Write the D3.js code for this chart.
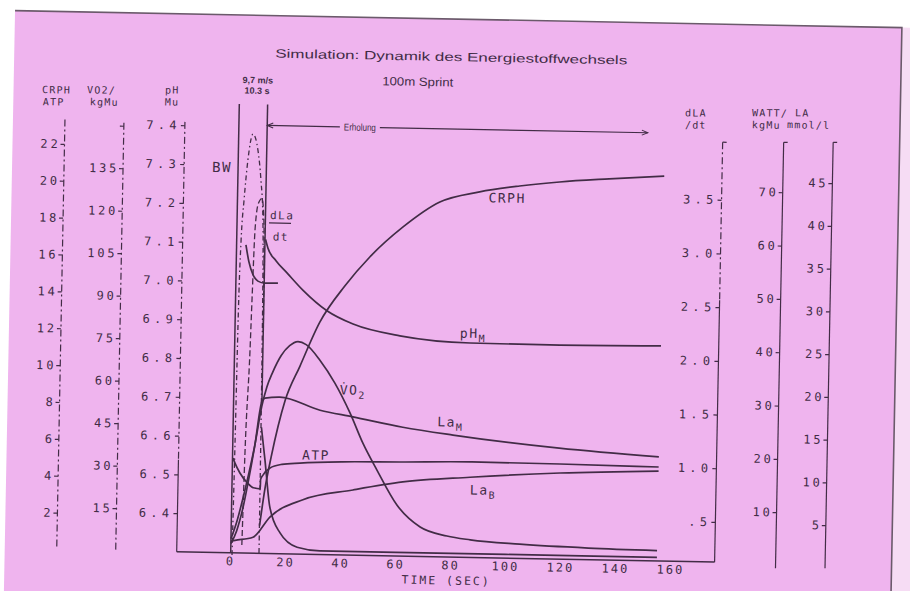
<!DOCTYPE html>
<html>
<head>
<meta charset="utf-8">
<script src="https://cdn.jsdelivr.net/npm/d3@7"></script>
<style>
    body { margin: 0; background: #fff; }
    svg { display: block; }
</style>
</head>
<body>
<svg id="chart" width="910" height="591"></svg>
<script>
// ---- data ----
const timeTicks = [0, 20, 40, 60, 80, 100, 120, 140, 160];
const crphTicks = [2, 4, 6, 8, 10, 12, 14, 16, 18, 20, 22];
const vo2Ticks = [15, 30, 45, 60, 75, 90, 105, 120, 135, 150];
const phTicks = [6.4, 6.5, 6.6, 6.7, 6.8, 6.9, 7.0, 7.1, 7.2, 7.3, 7.4];
const dlaTicks = [0.5, 1.0, 1.5, 2.0, 2.5, 3.0, 3.5];
const wattTicks = [10, 20, 30, 40, 50, 60, 70];
const laTicks = [5, 10, 15, 20, 25, 30, 35, 40, 45];

// [time s, value]
const crph = [[10.3, 1.5], [12, 3.5], [14, 5.2], [18.7, 8.3], [23.9, 10.2], [30.8, 12.6], [39.7, 14.6],
    [48.6, 16.2], [60.4, 17.85], [73.6, 19.24], [88, 19.83], [102.5, 20.19], [117, 20.45], [135, 20.67], [155, 20.88]];
const atp = [[0.2, 5.14], [0.9, 4.88], [2.8, 4.34], [5.6, 3.81], [7.8, 3.55], [10.3, 3.5], [10.35, 4.0],
    [11.2, 4.25], [13.7, 4.64], [18, 4.85], [24.5, 4.94], [40, 5.05], [60.9, 5.1], [86.4, 5.18], [119.1, 5.16], [155, 5.1]];
const vo2 = [[0, 5], [2, 11], [4, 19], [6, 28], [8, 38], [10.3, 52], [12, 58.8], [14, 64], [17, 70], [20, 73.5],
    [23, 75], [26, 74], [31.1, 68.6], [36.7, 60.6], [42.4, 50.2], [47.3, 39.6], [52.6, 30.2], [60.1, 18],
    [68.7, 10.4], [78.5, 7.4], [87, 6.2], [105, 5.0], [130, 4.1], [155, 3.7]];
const phSprint = [[3.4, 7.095], [4.6, 7.051], [6.2, 7.018], [8.0, 7.002], [10.5, 6.997], [15.3, 6.998]];
const phM = [[10.5, 7.11], [11.4, 7.088], [14.5, 7.055], [18.6, 7.024], [24.4, 6.981], [33.3, 6.929],
    [42.9, 6.896], [60, 6.868], [85.6, 6.853], [114.6, 6.852], [155, 6.855]];
const dlaSprint = [[4.0, 0.2], [4.5, 1.06], [5.6, 2.0], [6.0, 2.5], [6.6, 3.14], [7.6, 3.38], [8.9, 3.43],
    [9.7, 3.25], [10.1, 2.8], [10.3, 2.2]];
const dlaAfter = [[10.3, 1.3], [11.8, 1.0], [13.9, 0.56], [17.8, 0.32], [24.1, 0.19], [32.4, 0.16], [60, 0.16], [100, 0.16], [155, 0.16]];
const power = [[0.5, 0], [0.8, 20], [1.1, 45], [1.6, 59], [2.4, 66.6], [3.5, 74], [5.2, 79], [7.1, 76],
    [8.4, 70.4], [9.4, 62.9], [9.8, 51.7], [10.1, 30], [10.3, 0]];
const laM = [[0, 1.5], [2, 3], [4, 5.5], [6, 9], [8, 13], [10.3, 18.2], [11.4, 18.6], [16.8, 18.75],
    [31.5, 17.3], [43.5, 16.6], [61.7, 15.5], [80, 14.7], [118.7, 13.4], [155, 12.6]];
const laB = [[0, 1.8], [1.5, 1.9], [8, 2.3], [14, 4.7], [25.9, 6.8], [44, 8.05], [62.1, 9.1], [86.5, 9.8],
    [119.2, 10.5], [155, 10.95]];

// ---- setup ----
const ink = '#422c46';
const mono = "'DejaVu Sans Mono', monospace";
const sans = "'Liberation Sans', Arial, sans-serif";
const base = 557; // x axis line

const svg = d3.select('#chart');
svg.append('rect').attr('width', 910).attr('height', 591).attr('fill', '#fff');

// the scan is a little tilted
const g = svg.append('g').attr('transform', 'rotate(1.1,450,330)');

// paper
g.append('rect').attr('x', 9).attr('y', 19).attr('width', 887).attr('height', 640).attr('fill', '#efb4ee');
g.append('rect').attr('x', 896).attr('y', 19).attr('width', 40).attr('height', 640).attr('fill', '#f6dcf4');
g.append('path').attr('d', 'M9,19 L896,19 L896,660')
    .attr('fill', 'none').attr('stroke', '#6b5a6b').attr('stroke-width', 1.6);

// scales
const x = d3.scaleLinear().domain([0, 160]).range([235, 675]);
const yCrph = d3.scaleLinear().domain([0, 22]).range([base, base - 22 * 18.44]);
const yVo2 = d3.scaleLinear().domain([0, 135]).range([base, base - 135 * 2.833]);
const yPh = d3.scaleLinear().domain([6.4, 7.4]).range([518.4, 130.4]);
const yDla = d3.scaleLinear().domain([0.5, 3.5]).range([516.8, 194.6]);
const yWatt = d3.scaleLinear().domain([10, 70]).range([505.9, 185.9]);
const yLa = d3.scaleLinear().domain([5, 45]).range([517.9, 175.9]);

// ---- axes ----
function vAxis(scale, ticks, xPos, fmt, spacing) {
    const ax = g.append('g').attr('transform', `translate(${xPos},0)`)
        .call(d3.axisLeft(scale).tickValues(ticks).tickSize(4).tickPadding(0).tickFormat(fmt));
    ax.attr('font-family', mono).attr('font-size', 12);
    ax.select('.domain').remove();
    ax.selectAll('line').attr('stroke', ink).attr('stroke-width', 1.2);
    ax.selectAll('text').attr('fill', ink).attr('letter-spacing', spacing);
    return ax;
}

function vLine(xPos, y0, y1, dash, w) {
    g.append('line').attr('x1', xPos).attr('x2', xPos).attr('y1', y0).attr('y2', y1)
        .attr('stroke', ink).attr('stroke-width', w || 1.2)
        .attr('stroke-dasharray', dash || null);
}

const dashAxis = '7,3,2,3';

vAxis(yCrph, crphTicks, 61, d3.format('d'), 2.8);
vLine(61, 127, base, dashAxis);

vAxis(yVo2, vo2Ticks, 120, d => d === 150 ? '' : d, 2.8);
vLine(120, 129, base, dashAxis);

vAxis(yPh, phTicks, 181, d3.format('.1f'), 4.3);
vLine(181, 127, 465, dashAxis);
vLine(181, 465, base);

vAxis(yDla, dlaTicks, 719, d => d === 0.5 ? '.5' : d.toFixed(1), 4.3);
vLine(719, 137, 295, dashAxis);
vLine(719, 295, base);

vAxis(yWatt, wattTicks, 780, d3.format('d'), 2.8);
vLine(780, 136, 562);

vAxis(yLa, laTicks, 829.5, d3.format('d'), 2.8);
vLine(829.5, 135, 561);

// little top hooks of the right axes
[[719, 137], [780, 136], [829.5, 135]].forEach(([hx, hy]) => {
    g.append('line').attr('x1', hx).attr('x2', hx + 4).attr('y1', hy).attr('y2', hy)
        .attr('stroke', ink).attr('stroke-width', 1.2);
});

// x axis line
g.append('line').attr('x1', 181).attr('x2', 719).attr('y1', base).attr('y2', base)
    .attr('stroke', ink).attr('stroke-width', 1.5);

// x tick labels
g.append('g').selectAll('text').data(timeTicks).join('text')
    .attr('x', d => x(d)).attr('y', 569.5)
    .attr('text-anchor', 'middle').attr('font-family', mono).attr('font-size', 12)
    .attr('letter-spacing', 2).attr('fill', ink)
    .text(d => d);
g.append('text').attr('x', 451).attr('y', 584.5).attr('text-anchor', 'middle')
    .attr('font-family', mono).attr('font-size', 11.5).attr('letter-spacing', 2).attr('fill', ink)
    .text('TIME (SEC)');

// axis headers
const headers = [
    ['CRPH', 37.5, 101], ['ATP', 38.5, 113], ['VO2/', 82.5, 100.3], ['kgMu', 85.5, 112.3],
    ['pH', 160.5, 99], ['Mu', 160.5, 111],
    ['dLA', 680.8, 111.8], ['/dt', 681, 123.8], ['WATT/', 747.8, 110.4], ['LA', 790.8, 109.7],
    ['kgMu', 747.9, 122.5], ['mmol/l', 783, 121.7]
];
g.append('g').selectAll('text').data(headers).join('text')
    .attr('x', d => d[1]).attr('y', d => d[2])
    .attr('font-family', mono).attr('font-size', 10).attr('letter-spacing', 1.2).attr('fill', ink)
    .text(d => d[0]);

// ---- titles ----
g.append('text').attr('x', 446).attr('y', 61).attr('text-anchor', 'middle')
    .attr('font-family', sans).attr('font-size', 12).attr('fill', ink)
    .attr('textLength', 352).attr('lengthAdjust', 'spacingAndGlyphs')
    .text('Simulation: Dynamik des Energiestoffwechsels');
g.append('text').attr('x', 413).attr('y', 86.5).attr('text-anchor', 'middle')
    .attr('font-family', sans).attr('font-size', 12).attr('fill', ink)
    .attr('textLength', 71).attr('lengthAdjust', 'spacingAndGlyphs')
    .text('100m Sprint');
g.append('text').attr('x', 253).attr('y', 87).attr('text-anchor', 'middle')
    .attr('font-family', sans).attr('font-size', 9).attr('fill', ink).attr('font-weight', 'bold')
    .text('9,7 m/s');
g.append('text').attr('x', 252.5).attr('y', 97.5).attr('text-anchor', 'middle')
    .attr('font-family', sans).attr('font-size', 9).attr('fill', ink).attr('font-weight', 'bold')
    .text('10.3 s');

// sprint window
vLine(x(0), 108, base, null, 1.5);
vLine(x(10.3), 108, 403, null, 1.5);

// Erholung arrow
const ay = 129;
g.append('path').attr('d', `M${x(10.3)},${ay} L336,${ay} M376,${ay} L644,${ay}`)
    .attr('stroke', ink).attr('stroke-width', 1.2).attr('fill', 'none');
g.append('path').attr('d', `M${x(10.3) + 6},${ay - 2.5} L${x(10.3)},${ay} L${x(10.3) + 6},${ay + 2.5}`)
    .attr('stroke', ink).attr('stroke-width', 1).attr('fill', 'none');
g.append('path').attr('d', `M638,${ay - 2.5} L644,${ay} L638,${ay + 2.5}`)
    .attr('stroke', ink).attr('stroke-width', 1).attr('fill', 'none');
g.append('text').attr('x', 356).attr('y', 132.5).attr('text-anchor', 'middle')
    .attr('font-family', sans).attr('font-size', 10).attr('fill', ink)
    .attr('textLength', 32).attr('lengthAdjust', 'spacingAndGlyphs')
    .text('Erholung');

// ---- curves ----
function curve(data, scale, dash, w) {
    g.append('path').datum(data)
        .attr('d', d3.line().x(d => x(d[0])).y(d => scale(d[1])).curve(d3.curveMonotoneX))
        .attr('fill', 'none').attr('stroke', ink).attr('stroke-width', w || 1.7)
        .attr('stroke-linejoin', 'round').attr('stroke-dasharray', dash || null);
}

curve(power, yWatt, '5,3,1.5,3', 1.3);
curve(dlaSprint, yDla, '6,3', 1.3);
curve(dlaAfter, yDla);
curve(phSprint, yPh);
curve(phM, yPh);
curve(crph, yCrph);
curve(vo2, yVo2);
curve(laM, yLa);
curve(laB, yLa);
curve(atp, yCrph);

// ---- curve labels ----
function label(txt, lx, ly, sub, size) {
    const t = g.append('text').attr('x', lx).attr('y', ly)
        .attr('font-family', mono).attr('font-size', size || 13).attr('letter-spacing', 1.5).attr('fill', ink)
        .text(txt);
    if (sub) t.append('tspan').attr('dy', 4).attr('font-size', 10).text(sub);
    return t;
}

label('CRPH', 486, 201.5);
label('pH', 460, 337.5, 'M');
label('La', 439, 426.5, 'M');
label('La', 473, 494, 'B');
label('V\u0307O', 341, 396.5, '2');
label('ATP', 304.4, 462.3);
label('BW', 209, 176.5, null, 14);
label('dLa', 267.8, 222.5, null, 11);
label('dt', 271, 244, null, 11);
g.append('line').attr('x1', 267).attr('x2', 289).attr('y1', 226.4).attr('y2', 226.4)
    .attr('stroke', ink).attr('stroke-width', 1.2);
</script>
</body>
</html>
